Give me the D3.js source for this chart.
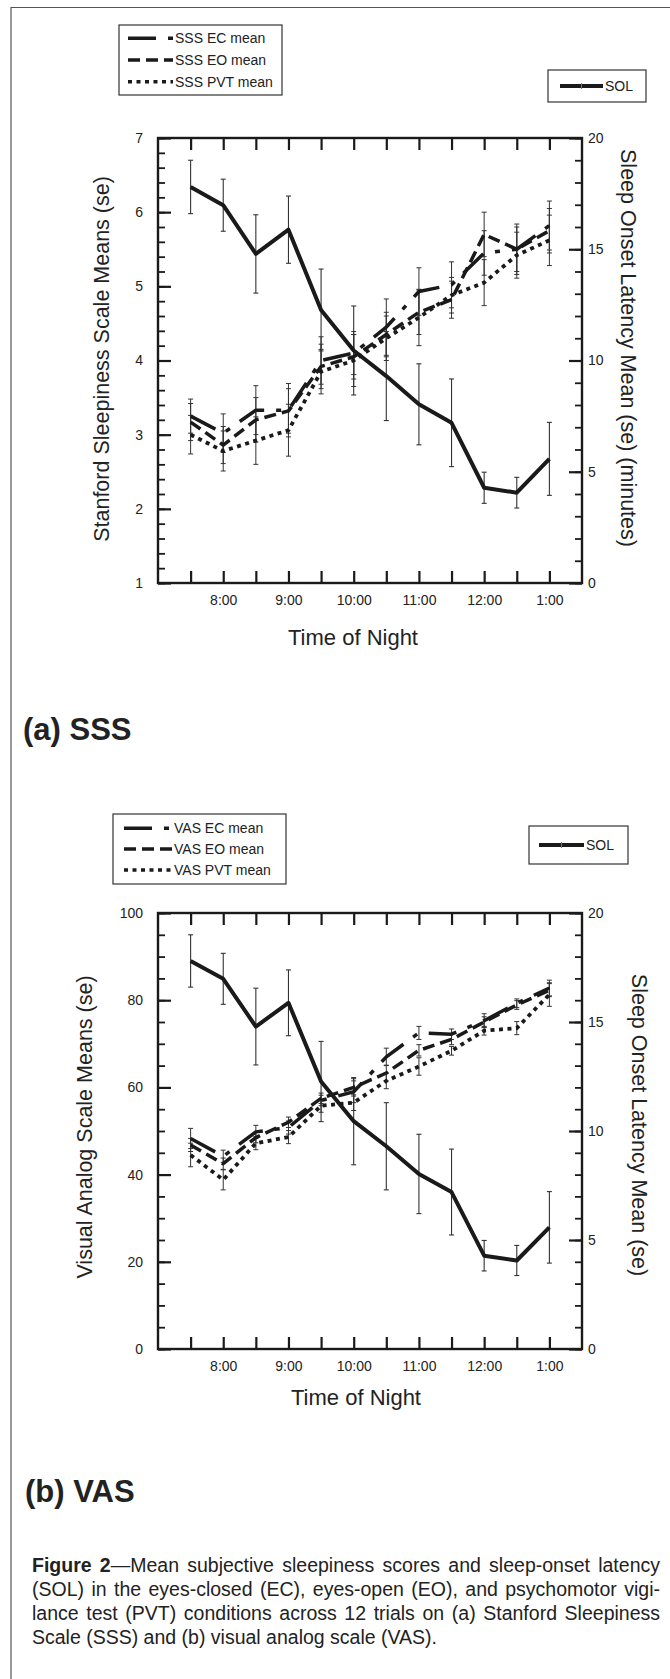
<!DOCTYPE html>
<html>
<head>
<meta charset="utf-8">
<script src="https://cdn.jsdelivr.net/npm/d3@7"></script>
<style>
body { margin: 0; background: #fff; }
svg { display: block; font-family: "Liberation Sans", Arial, sans-serif; }
</style>
</head>
<body>
<script>
// trials are half-hour steps from 7:30 to 1:00
var trials = [1, 2, 3, 4, 5, 6, 7, 8, 9, 10, 11, 12];
var timeTicks = [2, 4, 6, 8, 10, 12];
var timeLabels = ["8:00", "9:00", "10:00", "11:00", "12:00", "1:00"];

// sleep onset latency (minutes), same in both panels
var solMean = [17.8, 16.98, 14.79, 15.88, 12.27, 10.45, 9.3, 8.03, 7.2, 4.28, 4.06, 5.58];
var solSe   = [1.2, 1.17, 1.76, 1.51, 1.84, 2.0, 2.0, 1.82, 1.97, 0.7, 0.69, 1.64];

// Stanford Sleepiness Scale
var sssEC    = [3.25, 3.02, 3.33, 3.33, 4.0, 4.1, 4.45, 4.93, 5.02, 5.45, 5.5, 5.82];
var sssECse  = [0.23, 0.26, 0.33, 0.36, 0.32, 0.29, 0.38, 0.32, 0.31, 0.3, 0.34, 0.33];
var sssEO    = [3.17, 2.86, 3.2, 3.32, 3.92, 4.05, 4.35, 4.65, 4.82, 5.7, 5.5, 5.75];
var sssEOse  = [0.25, 0.25, 0.3, 0.3, 0.3, 0.3, 0.3, 0.3, 0.25, 0.3, 0.3, 0.3];
var sssPVT   = [3.0, 2.78, 2.92, 3.06, 3.85, 4.0, 4.3, 4.58, 4.88, 5.05, 5.42, 5.62];
var sssPVTse = [0.26, 0.27, 0.32, 0.35, 0.3, 0.35, 0.3, 0.38, 0.24, 0.31, 0.31, 0.34];

// visual analog scale
var vasEC    = [48.3, 44.2, 49.8, 50.8, 57, 59, 67, 72.5, 72.2, 75.3, 79.3, 82.8];
var vasECse  = [2.3, 1.4, 1.5, 1.5, 1.2, 2.5, 2.0, 1.5, 1.2, 1.6, 1.0, 1.8];
var vasEO    = [46.8, 42.5, 48.5, 52, 57.5, 60, 63.3, 68.5, 71, 75, 78.9, 82.3];
var vasEOse  = [1.5, 1.3, 1.2, 1.2, 1.2, 2.0, 1.8, 1.3, 1.2, 1.2, 1.0, 1.5];
var vasPVT   = [44.5, 38.8, 47.2, 48.6, 55.8, 56.5, 61.5, 64.8, 68.4, 73, 73.6, 81.3];
var vasPVTse = [2.7, 2.3, 1.5, 1.5, 1.5, 1.8, 1.8, 2.0, 1.0, 1.0, 1.5, 2.7];

var ink = "#1a1a1a";
var dashEC = "28,12,5,12", dashEO = "12,6", dashPVT = "4,4.5";

var svg = d3.select("body").append("svg")
  .attr("width", 670)
  .attr("height", 1679);

// figure frame (left and top edges)
svg.append("path")
  .attr("d", "M11,1679V7.5H670")
  .attr("fill", "none")
  .attr("stroke", "#555")
  .attr("stroke-width", 1.2);

var x = d3.scaleLinear().domain([0, 13]).range([158, 582]);

function styleAxis(sel, w) {
  sel.select(".domain").remove();
  sel.selectAll(".tick line").attr("stroke", ink).attr("stroke-width", w);
  sel.selectAll(".tick text")
    .attr("font-size", 14)
    .attr("font-family", "'Liberation Sans', Arial, sans-serif")
    .attr("fill", "#222");
}

function errBars(g, means, ses, y, w) {
  var eb = g.append("g").selectAll("g").data(means).join("g")
    .attr("stroke", "#333")
    .attr("stroke-width", w);
  eb.append("line")
    .attr("x1", function(d, i) { return x(trials[i]); })
    .attr("x2", function(d, i) { return x(trials[i]); })
    .attr("y1", function(d, i) { return y(d - ses[i]); })
    .attr("y2", function(d, i) { return y(d + ses[i]); });
  [-1, 1].forEach(function(s) {
    eb.append("line")
      .attr("x1", function(d, i) { return x(trials[i]) - 2.5; })
      .attr("x2", function(d, i) { return x(trials[i]) + 2.5; })
      .attr("y1", function(d, i) { return y(d + s * ses[i]); })
      .attr("y2", function(d, i) { return y(d + s * ses[i]); });
  });
}

function seriesLine(g, vals, y, dash, w) {
  var line = d3.line()
    .x(function(d, i) { return x(trials[i]); })
    .y(function(d) { return y(d); });
  g.append("path")
    .attr("d", line(vals))
    .attr("fill", "none")
    .attr("stroke", ink)
    .attr("stroke-width", w)
    .attr("stroke-dasharray", dash)
    .attr("stroke-linejoin", "round");
}

function panel(p) {
  var yL = d3.scaleLinear().domain(p.leftDomain).range([p.bottom, p.top]);
  var yR = d3.scaleLinear().domain([0, 20]).range([p.bottom, p.top]);
  var g = svg.append("g");

  // minor and major ticks, pointing into the plot
  g.append("g").attr("transform", "translate(158,0)")
    .call(d3.axisLeft(yL).tickValues(p.leftMinor).tickSize(-7).tickSizeOuter(0).tickFormat(""))
    .call(styleAxis, 1.8);
  g.append("g").attr("transform", "translate(158,0)")
    .call(d3.axisLeft(yL).tickValues(p.leftMajor).tickSize(-13).tickSizeOuter(0).tickPadding(15)
      .tickFormat(d3.format("d")))
    .call(styleAxis, 2.2);
  g.append("g").attr("transform", "translate(582,0)")
    .call(d3.axisRight(yR).tickValues(d3.range(0, 21)).tickSize(-7).tickSizeOuter(0).tickFormat(""))
    .call(styleAxis, 1.8);
  g.append("g").attr("transform", "translate(582,0)")
    .call(d3.axisRight(yR).tickValues([0, 5, 10, 15, 20]).tickSize(-13).tickSizeOuter(0).tickPadding(6)
      .tickFormat(d3.format("d")))
    .call(styleAxis, 2.2);
  g.append("g").attr("transform", "translate(0," + p.bottom + ")")
    .call(d3.axisBottom(x).tickValues(trials).tickSize(-12).tickSizeOuter(0).tickPadding(12)
      .tickFormat(function(d) { var k = timeTicks.indexOf(d); return k < 0 ? "" : timeLabels[k]; }))
    .call(styleAxis, 2.2);
  g.append("g").attr("transform", "translate(0," + p.top + ")")
    .call(d3.axisTop(x).tickValues(trials).tickSize(-12).tickSizeOuter(0).tickFormat(""))
    .call(styleAxis, 2.2);

  g.append("rect")
    .attr("x", 158).attr("y", p.top)
    .attr("width", 582 - 158).attr("height", p.bottom - p.top)
    .attr("fill", "none").attr("stroke", ink).attr("stroke-width", 2.4);

  // error bars
  errBars(g, p.ec, p.ecSe, yL, 1);
  errBars(g, p.eo, p.eoSe, yL, 1);
  errBars(g, p.pvt, p.pvtSe, yL, 1);
  errBars(g, solMean, solSe, yR, 1.1);

  // series
  seriesLine(g, p.ec, yL, dashEC, 3.5);
  seriesLine(g, p.eo, yL, dashEO, 3.5);
  seriesLine(g, p.pvt, yL, dashPVT, 3.8);
  seriesLine(g, solMean, yR, null, 4);

  // axis titles
  g.append("text")
    .attr("transform", "translate(" + p.leftTitleX + "," + p.leftTitleY + ") rotate(-90)")
    .attr("text-anchor", "middle").attr("dy", "0.35em")
    .attr("font-size", 21.5).attr("fill", "#222")
    .text(p.leftTitle);
  g.append("text")
    .attr("transform", "translate(" + p.rightTitleX + "," + p.rightTitleY + ") rotate(90)")
    .attr("text-anchor", "middle").attr("dy", "0.35em")
    .attr("font-size", 21.5).attr("fill", "#222")
    .text(p.rightTitle);
  g.append("text")
    .attr("x", p.xTitleX).attr("y", p.xTitleY)
    .attr("text-anchor", "middle")
    .attr("font-size", 22).attr("fill", "#222")
    .text("Time of Night");

  // legend for the scale series
  var lg = p.legend;
  g.append("rect")
    .attr("x", lg.x0).attr("y", lg.y0)
    .attr("width", lg.x1 - lg.x0).attr("height", lg.y1 - lg.y0)
    .attr("fill", "#fff").attr("stroke", "#333").attr("stroke-width", 1.2);
  var items = [[p.name + " EC mean", dashEC], [p.name + " EO mean", dashEO], [p.name + " PVT mean", dashPVT]];
  items.forEach(function(it, i) {
    var yy = lg.rows[i];
    g.append("line")
      .attr("x1", lg.s0).attr("x2", lg.s1).attr("y1", yy).attr("y2", yy)
      .attr("stroke", ink).attr("stroke-width", 3.4).attr("stroke-dasharray", it[1]);
    g.append("text")
      .attr("x", lg.s1 + 2).attr("y", yy).attr("dy", "0.35em")
      .attr("font-size", 14).attr("fill", "#222")
      .text(it[0]);
  });

  var sl = p.solLegend;
  g.append("rect")
    .attr("x", sl.x0).attr("y", sl.y0)
    .attr("width", sl.x1 - sl.x0).attr("height", sl.y1 - sl.y0)
    .attr("fill", "#fff").attr("stroke", "#333").attr("stroke-width", 1.2);
  g.append("line")
    .attr("x1", sl.s0).attr("x2", sl.s1).attr("y1", sl.y).attr("y2", sl.y)
    .attr("stroke", ink).attr("stroke-width", 4);
  g.append("line")
    .attr("x1", (sl.s0 + sl.s1) / 2).attr("x2", (sl.s0 + sl.s1) / 2)
    .attr("y1", sl.y - 3).attr("y2", sl.y + 3)
    .attr("stroke", "#777").attr("stroke-width", 1);
  g.append("text")
    .attr("x", sl.s1 + 2).attr("y", sl.y).attr("dy", "0.35em")
    .attr("font-size", 14).attr("fill", "#222")
    .text("SOL");

  g.append("text")
    .attr("x", p.tagX).attr("y", p.tagY)
    .attr("font-size", 31).attr("font-weight", "bold").attr("fill", "#222")
    .text(p.tag);
}

panel({
  name: "SSS", top: 138, bottom: 583,
  leftDomain: [1, 7],
  leftMajor: [1, 2, 3, 4, 5, 6, 7],
  leftMinor: d3.range(0, 31).map(function(i) { return 1 + i * 0.2; }),
  ec: sssEC, ecSe: sssECse, eo: sssEO, eoSe: sssEOse, pvt: sssPVT, pvtSe: sssPVTse,
  leftTitle: "Stanford Sleepiness Scale Means (se)", leftTitleX: 101, leftTitleY: 359,
  rightTitle: "Sleep Onset Latency Mean (se) (minutes)", rightTitleX: 629, rightTitleY: 348,
  xTitleX: 353, xTitleY: 645,
  legend: { x0: 119, y0: 25, x1: 282, y1: 95, s0: 128, s1: 173, rows: [38.3, 60, 81.7] },
  solLegend: { x0: 548, y0: 70, x1: 646, y1: 102, s0: 560, s1: 603, y: 86 },
  tag: "(a) SSS", tagX: 23, tagY: 740
});

panel({
  name: "VAS", top: 913, bottom: 1349,
  leftDomain: [0, 100],
  leftMajor: [0, 20, 40, 60, 80, 100],
  leftMinor: d3.range(0, 101, 5),
  ec: vasEC, ecSe: vasECse, eo: vasEO, eoSe: vasEOse, pvt: vasPVT, pvtSe: vasPVTse,
  leftTitle: "Visual Analog Scale Means (se)", leftTitleX: 84, leftTitleY: 1127,
  rightTitle: "Sleep Onset Latency Mean (se)", rightTitleX: 640, rightTitleY: 1125,
  xTitleX: 356, xTitleY: 1405,
  legend: { x0: 113, y0: 814, x1: 286, y1: 884, s0: 124, s1: 172, rows: [828.3, 849, 870] },
  solLegend: { x0: 529, y0: 826, x1: 628, y1: 864, s0: 539, s1: 584, y: 845 },
  tag: "(b) VAS", tagX: 25, tagY: 1502
});

// caption, justified by widening the word spacing
var captionLines = [
  ["Figure 2", "\u2014Mean subjective sleepiness scores and sleep-onset latency"],
  ["", "(SOL) in the eyes-closed (EC), eyes-open (EO), and psychomotor vigi-"],
  ["", "lance test (PVT) conditions across 12 trials on (a) Stanford Sleepiness"],
  ["", "Scale (SSS) and (b) visual analog scale (VAS)."]
];
var capLeft = 32, capRight = 660, capTop = 1572, capStep = 24;
captionLines.forEach(function(ln, i) {
  var t = svg.append("text")
    .attr("x", capLeft).attr("y", capTop + i * capStep)
    .attr("font-size", 19.5).attr("fill", "#222");
  if (ln[0]) t.append("tspan").attr("font-weight", "bold").text(ln[0]);
  t.append("tspan").text(ln[1]);
  if (i < captionLines.length - 1) {
    var full = ln[0] + ln[1];
    var spaces = full.split(" ").length - 1;
    var w = t.node().getComputedTextLength();
    t.attr("word-spacing", (capRight - capLeft - w) / spaces);
  }
});
</script>
</body>
</html>
